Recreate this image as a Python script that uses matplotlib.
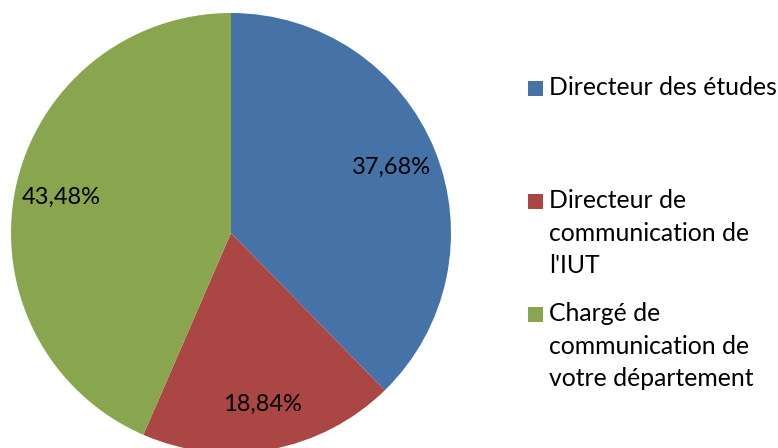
import matplotlib
matplotlib.use("Agg")
from matplotlib import pyplot as plt
import matplotlib.patches as patches

categories = ["Directeur des études",
              "Directeur de\ncommunication de\nl'IUT",
              "Chargé de\ncommunication de\nvotre département"]
values = [37.68, 18.84, 43.48]
colors = ["#4572A7", "#AA4643", "#89A54E"]

W, H = 778, 448
plt.rcParams['font.family'] = ['Lato', 'DejaVu Sans']

fig = plt.figure(figsize=(W / 100, H / 100), dpi=100)

# pie: centre (231, 233) px from top-left, radius 220 px
cx, cy, r = 231, 233, 220
ax = fig.add_axes([(cx - r) / W, (H - cy - r) / H, 2 * r / W, 2 * r / H])
ax.pie(values, colors=colors, startangle=90, counterclock=False,
       autopct=lambda p: f"{p:.2f}%".replace(".", ","), pctdistance=0.79,
       textprops=dict(fontsize=17, color="black"),
       wedgeprops=dict(linewidth=0))
ax.set_xlim(-1, 1)
ax.set_ylim(-1, 1)
ax.set_aspect("equal")
ax.axis("off")

# legend drawn by hand, Excel-style (marker next to first line)
baselines = [95, 208, 321]   # px from top, first line of each entry
line_h = 32.5
for label, color, y in zip(categories, colors, baselines):
    fig.patches.append(patches.Rectangle((528 / W, (H - y - 1) / H), 15 / W, 15 / H,
                                         transform=fig.transFigure, facecolor=color,
                                         edgecolor="none"))
    for i, line in enumerate(label.split("\n")):
        fig.text(549 / W, (H - y - i * line_h) / H, line, fontsize=17.8,
                 va="baseline", ha="left", transform=fig.transFigure)

fig.savefig("out.png", dpi=100)
